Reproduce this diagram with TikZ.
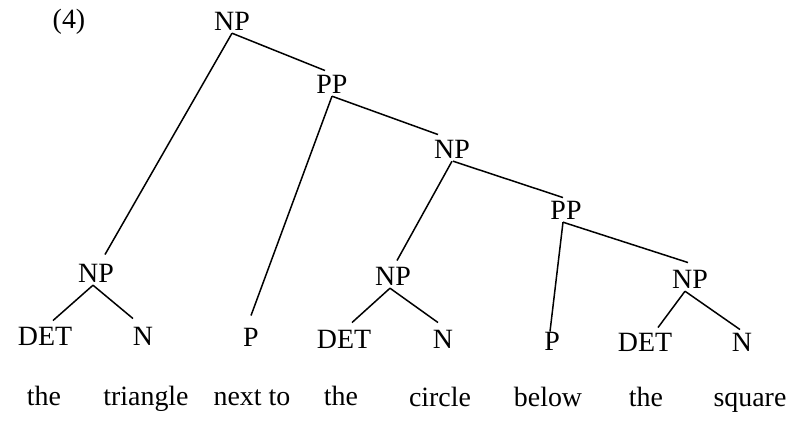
\documentclass[tikz,border=0pt]{standalone}
\usepackage{fontspec}
\setmainfont{Liberation Serif}
\usetikzlibrary{positioning}

\begin{document}
\begin{tikzpicture}[
        x=1bp, y=-1bp,
        every node/.style={font=\fontsize{28}{32}\selectfont},
        cat/.style={anchor=base, inner sep=3bp},
        word/.style={anchor=base, inner sep=0pt},
        branch/.style={draw=black, line width=1.5bp}
        ]
        \useasboundingbox (0,0) rectangle (802,420);

        \node[cat] (exnum) at (69, 28) {(4)};

        \node[cat] (root) at (232, 30) {NP};
        \node[cat] (ppone) at (332, 93) {PP};
        \node[cat] (nptwo) at (452, 158) {NP};
        \node[cat] (pptwo) at (566, 219) {PP};

        \node[cat] (npleft) at (96, 282) {NP};
        \node[cat] (npmid) at (393, 285) {NP};
        \node[cat] (npright) at (690, 288) {NP};

        \node[cat] (detleft) at (45, 345) {DET};
        \node[cat] (nleft) at (143, 345) {N};
        \node[cat] (pleft) at (251, 346) {P};
        \node[cat] (detmid) at (344, 348) {DET};
        \node[cat] (nmid) at (443, 348) {N};
        \node[cat] (pright) at (552, 350) {P};
        \node[cat] (detright) at (645, 351) {DET};
        \node[cat] (nright) at (742, 351) {N};

        \node[word] (wthea) at (44, 405) {the};
        \node[word] (wtriangle) at (146, 405) {triangle};
        \node[word] (wnextto) at (252, 405) {next to};
        \node[word] (wtheb) at (341, 405) {the};
        \node[word] (wcircle) at (440, 406) {circle};
        \node[word] (wbelow) at (548, 406) {below};
        \node[word] (wthec) at (646, 406) {the};
        \node[word] (wsquare) at (750, 406) {square};

        % upper spine
        \draw[branch] (root.south) -- ([xshift=-7bp, yshift=1bp]ppone.north);
        \draw[branch] (root.south) -- ([xshift=9bp, yshift=6bp]npleft.north);
        \draw[branch] (ppone.south) -- ([yshift=9bp]pleft.north);
        \draw[branch] (ppone.south) -- ([xshift=-14bp, yshift=2bp]nptwo.north);
        \draw[branch] (nptwo.south) -- ([xshift=4bp, yshift=3bp]npmid.north);
        \draw[branch] ([xshift=1bp]nptwo.south) -- ([xshift=-3bp]pptwo.north);
        \draw[branch] ([xshift=-3bp]pptwo.south) -- ([xshift=-2bp, yshift=-3bp]pright.north);
        \draw[branch] ([xshift=-3bp]pptwo.south) -- ([xshift=-2bp, yshift=4bp]npright.north);

        % lower NPs
        \draw[branch] ([xshift=-3bp]npleft.south) -- ([xshift=8bp, yshift=3bp]detleft.north);
        \draw[branch] ([xshift=-3bp]npleft.south) -- ([xshift=-10bp, yshift=5bp]nleft.north);
        \draw[branch] ([xshift=-3bp]npmid.south) -- ([xshift=8bp, yshift=4bp]detmid.north);
        \draw[branch] ([xshift=-3bp]npmid.south) -- ([xshift=-5bp, yshift=4bp]nmid.north);
        \draw[branch] ([xshift=-5bp]npright.south) -- ([xshift=13bp, yshift=2bp]detright.north);
        \draw[branch] ([xshift=-5bp]npright.south) -- ([xshift=-2bp]nright.north);

    \end{tikzpicture}
\end{document}
